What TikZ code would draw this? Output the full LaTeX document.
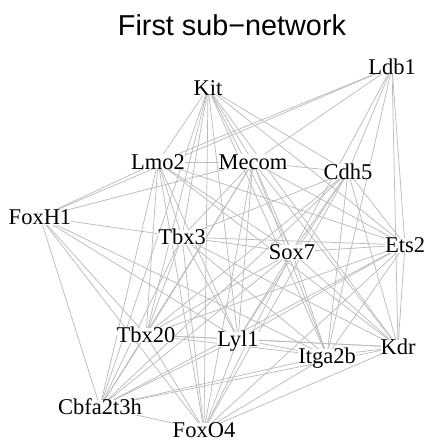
\documentclass[tikz,border=0pt]{standalone}
\usepackage{fontspec}
\setmainfont{Liberation Serif}
\newfontfamily\titlefont{Liberation Sans}
\pgfdeclarelayer{edges}
\pgfsetlayers{edges,main}
\begin{document}
\begin{tikzpicture}[x=1pt,y=-1pt,
  gene/.style={font=\fontsize{22.5}{24}\selectfont, inner sep=0pt, text height=15pt, text depth=0pt, fill=white},
  link/.style={draw={rgb,255:red,188;green,188;blue,188}, line width=0.75pt}]
\useasboundingbox (0,0) rectangle (428,446);
\node[font=\titlefont\fontsize{28.8}{32}\selectfont] (title) at (232,25) {First sub\textminus network};

% genes
\node[gene] (kit)  at (208,88)  {Kit};
\node[gene] (ldb)  at (392,67)  {Ldb1};
\node[gene] (lmo)  at (158,162) {Lmo2};
\node[gene] (mec)  at (253,162) {Mecom};
\node[gene] (cdh)  at (348,172) {Cdh5};
\node[gene] (foxh) at (40,217)  {FoxH1};
\node[gene] (tbxa) at (182,237) {Tbx3};
\node[gene] (sox)  at (292,252) {Sox7};
\node[gene] (ets)  at (405,245) {Ets2};
\node[gene] (tbxb) at (146,335) {Tbx20};
\node[gene] (lyl)  at (238,339) {Lyl1};
\node[gene] (itg)  at (327,356) {Itga2b};
\node[gene] (kdr)  at (398,347) {Kdr};
\node[gene] (cbf)  at (100,407) {Cbfa2t3h};
\node[gene] (foxo) at (204,430) {FoxO4};

% interactions
\begin{pgfonlayer}{edges}
\foreach \a/\b in {
  kit/lmo, kit/mec, kit/cdh, kit/tbxa, kit/sox, kit/ets, kit/tbxb, kit/lyl, kit/itg, kit/kdr, kit/cbf, kit/foxo,
  ldb/lmo, ldb/mec, ldb/cdh, ldb/foxh, ldb/sox, ldb/ets, ldb/itg, ldb/kdr,
  lmo/mec, lmo/foxh, lmo/tbxa, lmo/sox, lmo/ets, lmo/tbxb, lmo/lyl, lmo/kdr, lmo/cbf, lmo/foxo,
  mec/cdh, mec/foxh, mec/tbxa, mec/sox, mec/ets, mec/tbxb, mec/lyl, mec/itg, mec/kdr, mec/cbf, mec/foxo,
  cdh/tbxa, cdh/sox, cdh/ets, cdh/tbxb, cdh/lyl, cdh/itg, cdh/kdr, cdh/cbf, cdh/foxo,
  foxh/tbxa, foxh/tbxb, foxh/lyl, foxh/itg, foxh/cbf, foxh/foxo,
  tbxa/sox, tbxa/ets, tbxa/tbxb, tbxa/lyl, tbxa/itg, tbxa/kdr, tbxa/cbf, tbxa/foxo,
  sox/ets, sox/tbxb, sox/lyl, sox/itg, sox/kdr, sox/cbf, sox/foxo,
  ets/tbxb, ets/lyl, ets/itg, ets/kdr, ets/cbf, ets/foxo,
  tbxb/lyl, tbxb/itg, tbxb/kdr, tbxb/cbf, tbxb/foxo,
  lyl/itg, lyl/kdr, lyl/cbf, lyl/foxo,
  itg/kdr, itg/cbf, itg/foxo,
  kdr/cbf, kdr/foxo,
  cbf/foxo}
  \draw[link] (\a.center) -- (\b.center);
\end{pgfonlayer}
\end{tikzpicture}
\end{document}
